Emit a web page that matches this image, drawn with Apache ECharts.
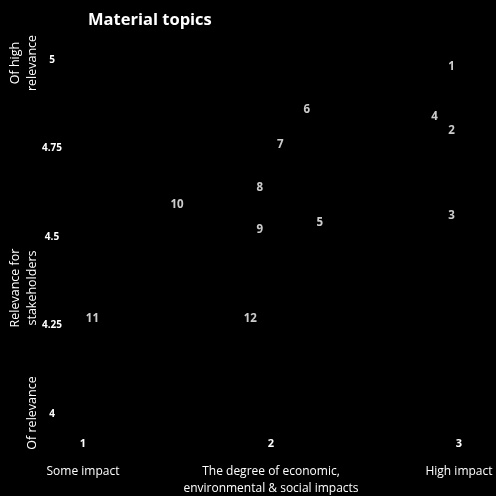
<!DOCTYPE html>
<html>
<head>
<meta charset="utf-8">
<script src="https://cdn.jsdelivr.net/npm/echarts@6/dist/echarts.min.js"></script>
<style>
html,body{margin:0;padding:0;background:#000;}
#c{width:496px;height:496px;}
</style>
</head>
<body>
<div id="c"></div>
<script>
// Data
var topicIds = ['1','2','3','4','5','6','7','8','9','10','11','12'];
var impact = [2.96, 2.96, 2.96, 2.87, 2.26, 2.19, 2.05, 1.94, 1.94, 1.50, 1.05, 1.89];
var relevance = [4.98, 4.80, 4.56, 4.84, 4.54, 4.86, 4.76, 4.64, 4.52, 4.59, 4.27, 4.27];
var xTicks = [1, 2, 3];
var xDescriptions = ['Some impact', 'The degree of economic,\nenvironmental & social impacts', 'High impact'];
var yTicks = [4, 4.25, 4.5, 4.75, 5];
var title = 'Material topics';

var points = topicIds.map(function (id, i) { return [impact[i], relevance[i], id]; });

var chart = echarts.init(document.getElementById('c'));
var font = 'Open Sans';
chart.setOption({
  backgroundColor: '#000',
  animation: false,
  title: {
    text: title, left: 83, top: 7,
    textStyle: { color: '#fff', fontSize: 16.5, fontWeight: 'bold', fontFamily: font }
  },
  grid: { left: 83, right: 37, top: 60, bottom: 82 },
  xAxis: {
    type: 'value', min: 1, max: 3, interval: 1,
    axisLine: { show: false }, axisTick: { show: false }, splitLine: { show: false },
    axisLabel: {
      margin: 10,
      formatter: function (v) {
        var i = xTicks.indexOf(v);
        var d = xDescriptions[i] || '';
        return '{n|' + v + '}\n' + d.split('\n').map(function (s) { return '{d|' + s + '}'; }).join('\n');
      },
      rich: {
        n: { color: '#fff', fontSize: 11, fontWeight: 'bold', fontFamily: font, lineHeight: 39 },
        d: { color: '#fff', fontSize: 12, fontFamily: font, lineHeight: 17 }
      }
    }
  },
  yAxis: {
    type: 'value', min: 4, max: 5, interval: 0.25,
    axisLine: { show: false }, axisTick: { show: false }, splitLine: { show: false },
    axisLabel: {
      color: '#fff', fontSize: 10, fontWeight: 'bold', fontFamily: font,
      align: 'center', margin: 31
    }
  },
  graphic: [
    { type: 'text', x: 7, y: 63, rotation: Math.PI / 2,
      style: { text: 'Of high\nrelevance', fill: '#fff', font: '12.5px "Open Sans"', align: 'center', verticalAlign: 'top', lineHeight: 17 } },
    { type: 'text', x: 7, y: 288, rotation: Math.PI / 2,
      style: { text: 'Relevance for\nstakeholders', fill: '#fff', font: '12.5px "Open Sans"', align: 'center', verticalAlign: 'top', lineHeight: 17 } },
    { type: 'text', x: 24, y: 413, rotation: Math.PI / 2,
      style: { text: 'Of relevance', fill: '#fff', font: '12.5px "Open Sans"', align: 'center', verticalAlign: 'top', lineHeight: 17 } }
  ],
  series: [{
    type: 'scatter',
    data: points,
    symbolSize: 1,
    itemStyle: { color: '#000' },
    label: {
      show: true, position: 'inside',
      formatter: function (p) { return p.data[2]; },
      color: '#fff', fontSize: 11.5, fontWeight: 'bold', fontFamily: font
    }
  }]
});
</script>
</body>
</html>
